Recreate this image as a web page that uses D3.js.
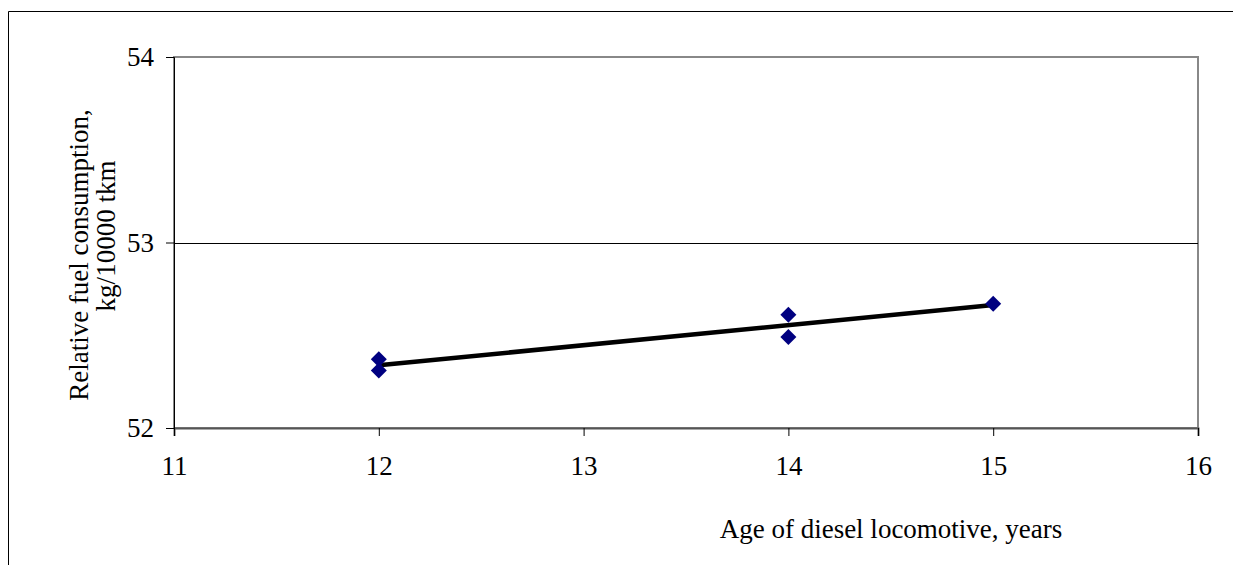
<!DOCTYPE html>
<html><head><meta charset="utf-8">
<script src="https://cdn.jsdelivr.net/npm/d3@7"></script>
<style>
html,body{margin:0;padding:0;background:#fff;}
text{font-family:"Liberation Serif","Times New Roman",serif;fill:#000;}
</style></head>
<body><svg id="chart" width="1233" height="565"></svg>
<script>
const ageX = [12, 12, 14, 14, 15];
const fuelY = [52.37, 52.31, 52.61, 52.49, 52.67];
const trendX = [12, 15];
const trendY = [52.338, 52.663];
const xTicks = [11, 12, 13, 14, 15, 16];
const yTicks = [52, 53, 54];
const xTitle = "Age of diesel locomotive, years";
const yTitle = ["Relative fuel consumption,", "kg/10000 tkm"];

const svg = d3.select("#chart");
const L = 174, R = 1198, T = 57, B = 428;
const x = d3.scaleLinear().domain([11, 16]).range([L, R]);
const y = d3.scaleLinear().domain([52, 54]).range([B, T]);
const FS = 27;

// outer frame (left and top visible)
svg.append("path").attr("d", `M8.5,565 V11.5 H1233`).attr("fill","none").attr("stroke","#000").attr("stroke-width",1);

// plot area border
svg.append("rect").attr("x", L).attr("y", T).attr("width", R - L).attr("height", B - T)
  .attr("fill","none").attr("stroke","#888").attr("stroke-width",2);

// gridline at 53
svg.append("g").selectAll("line").data(yTicks.filter(v => v > 52 && v < 54)).join("line")
  .attr("x1", L).attr("x2", R).attr("y1", d => Math.round(y(d)) + 0.5).attr("y2", d => Math.round(y(d)) + 0.5)
  .attr("stroke","#000").attr("stroke-width",1);

// axes
const xAxis = d3.axisBottom(x).tickValues(xTicks).tickSize(8).tickPadding(20).tickFormat(d3.format("d"));
const gx = svg.append("g").attr("transform", `translate(0,${B})`).call(xAxis);
gx.select(".domain").attr("stroke","#555").attr("stroke-width",2);
gx.selectAll(".tick line").attr("stroke","#000");
gx.selectAll("text").attr("font-size", FS).attr("font-family","Liberation Serif");

const yAxis = d3.axisLeft(y).tickValues(yTicks).tickSize(8).tickPadding(12).tickFormat(d3.format("d"));
const gy = svg.append("g").attr("transform", `translate(${L},0)`).call(yAxis);
gy.select(".domain").attr("stroke","#000").attr("stroke-width",1);
gy.selectAll(".tick line").attr("stroke","#000");
gy.selectAll("text").attr("font-size", FS).attr("font-family","Liberation Serif");

// trend line
svg.append("path").datum(trendX.map((d, i) => [d, trendY[i]]))
  .attr("d", d3.line().x(d => x(d[0])).y(d => y(d[1])))
  .attr("fill","none").attr("stroke","#000").attr("stroke-width",4.5);

// points
svg.append("g").selectAll("path").data(ageX.map((d, i) => [d, fuelY[i]])).join("path")
  .attr("transform", d => `translate(${x(d[0])},${y(d[1])}) rotate(45)`)
  .attr("d", d3.symbol().type(d3.symbolSquare).size(128))
  .attr("fill","#000080");

// titles
svg.append("text").attr("x", 891).attr("y", 538).attr("text-anchor","middle").attr("font-size", FS).text(xTitle);
const yPos = [[88, 255], [115, 236]];
svg.append("g").selectAll("text").data(yTitle).join("text")
  .attr("transform", (d, i) => `translate(${yPos[i][0]},${yPos[i][1]}) rotate(-90)`)
  .attr("text-anchor","middle").attr("font-size", FS).text(d => d);
</script></body></html>
